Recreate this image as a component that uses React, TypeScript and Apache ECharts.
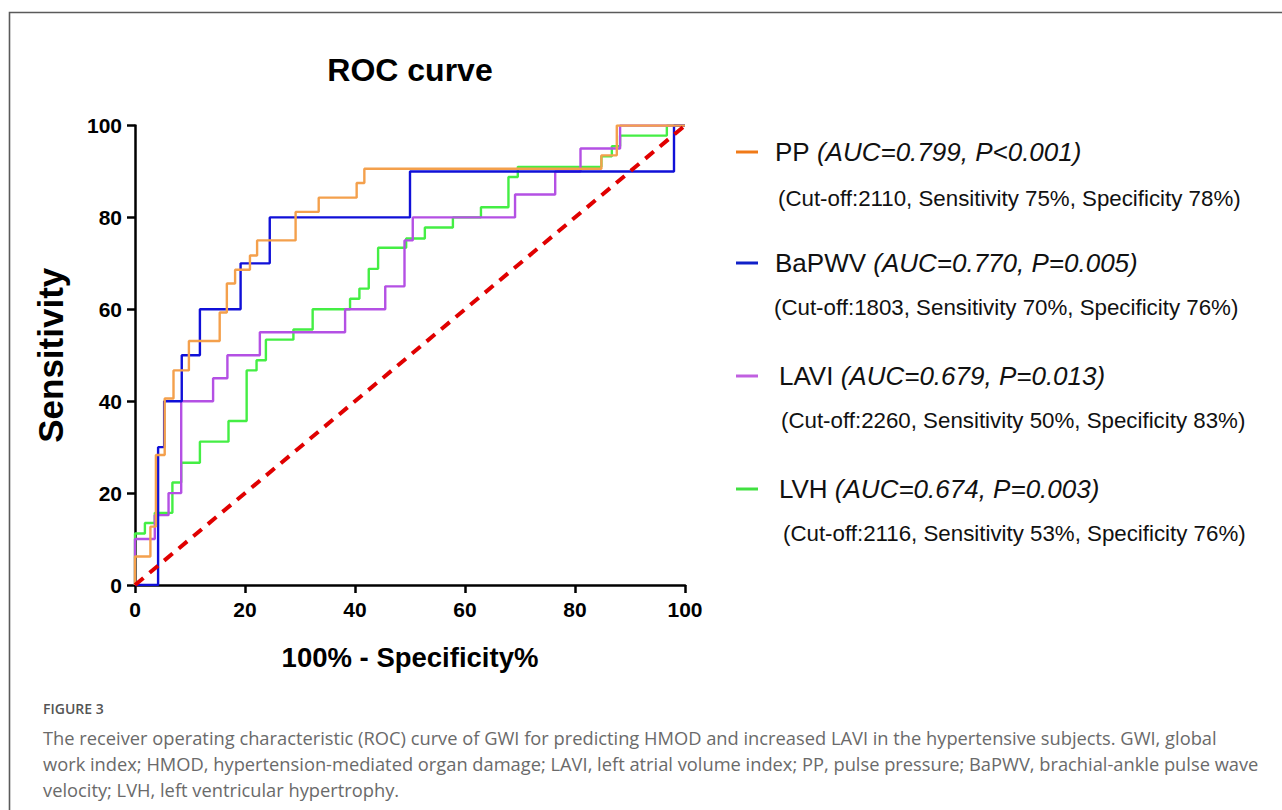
import React, { useEffect, useRef } from "react";
import * as echarts from "echarts";

// ---- data ----
const AXIS_TICKS = [0, 20, 40, 60, 80, 100];

const SERIES_NAMES = ["PP", "BaPWV", "LAVI", "LVH"];
const SERIES_COLORS = ["#F4A04C", "#1010D8", "#B450E4", "#44EE44"];
const LEGEND_COLORS = ["#F07A18", "#1020C8", "#C060E0", "#40E040"];

// ROC step points: [100% - Specificity, Sensitivity]
const PP_ROC = [
  [0, 0], [0, 6.2], [2.8, 12.7], [3.8, 28.3], [5.4, 40.6], [7, 46.7], [9.8, 53.1],
  [15.4, 59.3], [16.7, 65.6], [18.2, 68.6], [20.9, 71.7], [22.2, 75], [29.2, 81.2],
  [33.4, 84.3], [40.3, 87.5], [41.7, 90.6], [84.8, 93.5], [87.6, 100], [100, 100],
];
const BAPWV_ROC = [
  [0, 0], [4.2, 30], [5.3, 40], [8.5, 50], [11.8, 60], [19.2, 70], [24.5, 80],
  [50, 90], [98, 100], [100, 100],
];
const LAVI_ROC = [
  [0, 0], [0, 10], [3.6, 15.2], [6.1, 20], [8.4, 40], [14.2, 45], [16.8, 50],
  [22.7, 55], [38.2, 60], [45.5, 65], [49, 75], [50.5, 80], [69.1, 85], [76.4, 90],
  [81, 95], [88.2, 100], [100, 100],
];
const LVH_ROC = [
  [0, 0], [0, 11.2], [1.8, 13.5], [3.6, 15.7], [6.8, 22.3], [8.4, 26.6], [11.8, 31.2],
  [17, 35.7], [20.3, 46.7], [22.1, 48.9], [23.8, 53.4], [28.8, 55.6], [32.3, 60],
  [39.1, 62.3], [40.8, 64.5], [42.5, 68.8], [44.2, 73.4], [49.3, 75.4], [52.7, 77.8],
  [57.8, 80], [62.9, 82.2], [67.9, 88.8], [69.6, 91], [84.8, 93.3], [86.7, 95.5],
  [88.2, 97.8], [96.7, 100], [100, 100],
];
const REFERENCE_LINE = [[0, 0], [100, 100]];

const LEGEND_STATS = [
  "(AUC=0.799, P<0.001)",
  "(AUC=0.770, P=0.005)",
  "(AUC=0.679, P=0.013)",
  "(AUC=0.674, P=0.003)",
];
const LEGEND_DETAILS = [
  "(Cut-off:2110, Sensitivity 75%, Specificity 78%)",
  "(Cut-off:1803, Sensitivity 70%, Specificity 76%)",
  "(Cut-off:2260, Sensitivity 50%, Specificity 83%)",
  "(Cut-off:2116, Sensitivity 53%, Specificity 76%)",
];

const TITLE = "ROC curve";
const X_NAME = "100% - Specificity%";
const Y_NAME = "Sensitivity";
const FIG_LABEL = "FIGURE 3";
const CAPTION_LINES = [
  "The receiver operating characteristic (ROC) curve of GWI for predicting HMOD and increased LAVI in the hypertensive subjects. GWI, global",
  "work index; HMOD, hypertension-mediated organ damage; LAVI, left atrial volume index; PP, pulse pressure; BaPWV, brachial-ankle pulse wave",
  "velocity; LVH, left ventricular hypertrophy.",
];

const ROC_DATA = [PP_ROC, BAPWV_ROC, LAVI_ROC, LVH_ROC];

// layout (positions only)
const LEG_ROW_Y = [152, 263, 376, 489];
const LEG_SUB_Y = [198, 307, 420, 533];
const LEG_TEXT_X = [775, 775, 779, 779];
const LEG_SUB_X = [778, 774, 781, 783];

export default function App() {
  const ref = useRef<HTMLDivElement>(null);

  useEffect(() => {
    if (!ref.current) return;
    const chart = echarts.init(ref.current, undefined, { renderer: "svg" });
    const FONT = "'Liberation Sans', Arial, sans-serif";

    const graphics: any[] = [
      {
        type: "polyline",
        shape: { points: [[9.5, 840], [9.5, 12.5], [1300, 12.5]] },
        style: { stroke: "#5a5a5a", lineWidth: 1.6, fill: null },
        silent: true,
      },
      {
        type: "text",
        x: 410,
        y: 70,
        style: {
          text: TITLE,
          align: "center",
          verticalAlign: "middle",
          font: `bold 32px ${FONT}`,
          fill: "#000",
        },
      },
    ];

    SERIES_NAMES.forEach((name, i) => {
      graphics.push({
        type: "line",
        shape: { x1: 736, y1: LEG_ROW_Y[i], x2: 758, y2: LEG_ROW_Y[i] },
        style: { stroke: LEGEND_COLORS[i], lineWidth: 3 },
      });
      graphics.push({
        type: "text",
        x: LEG_TEXT_X[i],
        y: LEG_ROW_Y[i],
        style: {
          text: `{n|${name}} {i|${LEGEND_STATS[i]}}`,
          verticalAlign: "middle",
          rich: {
            n: { fontFamily: FONT, fontSize: 26, fill: "#111", color: "#111" },
            i: { fontFamily: FONT, fontSize: 26, fontStyle: "italic", fill: "#111", color: "#111" },
          },
          font: `26px ${FONT}`,
          fill: "#111",
        },
      });
      graphics.push({
        type: "text",
        x: LEG_SUB_X[i],
        y: LEG_SUB_Y[i],
        style: {
          text: LEGEND_DETAILS[i],
          verticalAlign: "middle",
          font: `22.3px ${FONT}`,
          fill: "#111",
        },
      });
    });

    graphics.push({
      type: "text",
      x: 43,
      y: 708,
      style: {
        text: FIG_LABEL,
        verticalAlign: "middle",
        font: `600 14px 'Open Sans', sans-serif`,
        fill: "#555",
      },
    });
    CAPTION_LINES.forEach((line, i) => {
      graphics.push({
        type: "text",
        x: 43,
        y: 737 + i * 26,
        style: {
          text: line,
          verticalAlign: "middle",
          font: `18.3px 'Open Sans', sans-serif`,
          fill: "#6a6a6a",
        },
      });
    });

    const axisCommon = {
      type: "value",
      min: 0,
      max: 100,
      interval: 20,
      splitLine: { show: false },
      axisLine: { show: true, onZero: false, lineStyle: { color: "#000", width: 2.5 } },
      axisTick: { show: true, inside: false, length: 8, lineStyle: { color: "#000", width: 2.5 } },
      axisLabel: {
        fontFamily: FONT,
        fontWeight: "bold",
        fontSize: 21,
        color: "#000",
        margin: 14,
        formatter: (v: number) => (AXIS_TICKS.includes(v) ? String(v) : ""),
      },
      nameLocation: "middle",
      nameTextStyle: { fontFamily: FONT, fontWeight: "bold", color: "#000" },
    };

    const series: any[] = ROC_DATA.map((data, i) => ({
      name: SERIES_NAMES[i],
      type: "line",
      step: "end",
      data,
      showSymbol: false,
      symbol: "none",
      lineStyle: { color: SERIES_COLORS[i], width: 2.4 },
      z: 3 + (3 - i),
    }));
    series.push({
      name: "Reference",
      type: "line",
      data: REFERENCE_LINE,
      showSymbol: false,
      symbol: "none",
      lineStyle: { color: "#E00000", width: 4, type: [11, 8] },
      z: 8,
    });

    chart.setOption({
      animation: false,
      backgroundColor: "#fff",
      grid: { left: 135, top: 125.5, width: 550, height: 459.5, containLabel: false },
      xAxis: {
        ...axisCommon,
        name: X_NAME,
        nameGap: 58,
        nameTextStyle: { ...axisCommon.nameTextStyle, fontSize: 27.5 },
      },
      yAxis: {
        ...axisCommon,
        name: Y_NAME,
        nameGap: 67,
        nameTextStyle: { ...axisCommon.nameTextStyle, fontSize: 35 },
        axisLabel: { ...axisCommon.axisLabel, margin: 13 },
      },
      series,
      graphic: graphics,
    });

    return () => chart.dispose();
  }, []);

  return (
    <div
      ref={ref}
      style={{ position: "absolute", left: 0, top: 0, width: 1282, height: 810, background: "#fff" }}
    />
  );
}
